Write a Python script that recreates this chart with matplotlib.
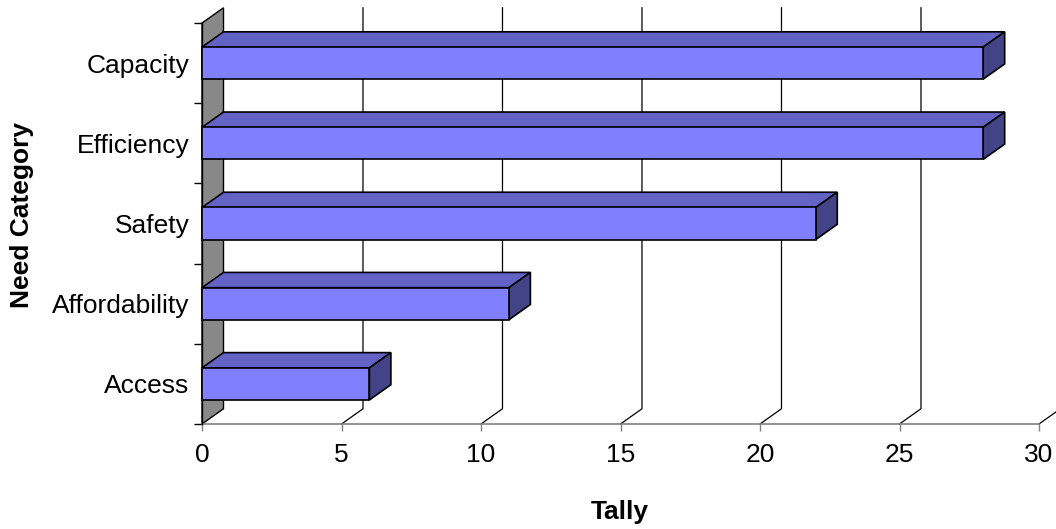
import matplotlib.pyplot as plt
from matplotlib.patches import Polygon, Rectangle

plt.rcParams['font.family'] = ['Liberation Sans', 'DejaVu Sans']

categories = ["Access", "Affordability", "Safety", "Efficiency", "Capacity"]
tally = [6, 11, 22, 28, 28]
x_ticks = [0, 5, 10, 15, 20, 25, 30]

# depth of the pseudo-3D extrusion, in data units
DX = 0.77
DY = 0.19
HALF = 0.2

front_col = "#8080FF"
top_col = "#6363C6"
side_col = "#434387"
wall_col = "#888888"

fig = plt.figure(figsize=(10.56, 5.29), dpi=100)
ax = fig.add_axes([0.1913, 0.1985, 0.7926, 0.758])
ax.set_xlim(0, 30)
ax.set_ylim(-0.5, len(categories) - 0.5)
ymin, ymax = -0.5, len(categories) - 0.5

for s in ax.spines.values():
    s.set_visible(False)

# grey side wall
ax.add_patch(Polygon([(0, ymin), (DX, ymin + DY), (DX, ymax + DY), (0, ymax)],
                     closed=True, fc=wall_col, ec="black", lw=1, zorder=1, clip_on=False))

# gridlines running along the floor and up the back wall
for k in x_ticks[1:]:
    ax.plot([k, k + DX, k + DX], [ymin, ymin + DY, ymax + DY],
            color="black", lw=0.9, zorder=1, clip_on=False)

# axis lines
ax.plot([0, 30], [ymin, ymin], color="#808080", lw=1.2, zorder=2, clip_on=False)
ax.plot([0, 0], [ymin, ymax], color="black", lw=1, zorder=2, clip_on=False)

for i, v in enumerate(tally):
    y0, y1 = i - HALF, i + HALF
    ax.add_patch(Polygon([(0, y1), (DX, y1 + DY), (v + DX, y1 + DY), (v, y1)],
                         closed=True, fc=top_col, ec="black", lw=1.2, zorder=3, clip_on=False))
    ax.add_patch(Polygon([(v, y0), (v + DX, y0 + DY), (v + DX, y1 + DY), (v, y1)],
                         closed=True, fc=side_col, ec="black", lw=1.2, zorder=3, clip_on=False))
    ax.add_patch(Rectangle((0, y0), v, y1 - y0, fc=front_col, ec="black", lw=1.2,
                           zorder=4, clip_on=False))

ax.set_xticks(x_ticks)
ax.set_xticklabels([str(t) for t in x_ticks], fontsize=19)
ax.tick_params(axis="x", direction="out", length=5, width=1, color="#808080", pad=9)

ax.set_yticks([i - 0.5 for i in range(len(categories) + 1)])
ax.set_yticklabels([])
ax.tick_params(axis="y", which="major", direction="out", length=6, width=1)
ax.set_yticks(range(len(categories)), minor=True)
ax.set_yticklabels(categories, minor=True, fontsize=19)
ax.tick_params(axis="y", which="minor", length=0, pad=9)

fig.text(0.021, 0.594, "Need Category", rotation=90, fontsize=19, fontweight="bold",
         ha="center", va="center")
fig.text(0.587, 0.032, "Tally", fontsize=19, fontweight="bold", ha="center", va="center")

fig.savefig("out.png", dpi=100)
